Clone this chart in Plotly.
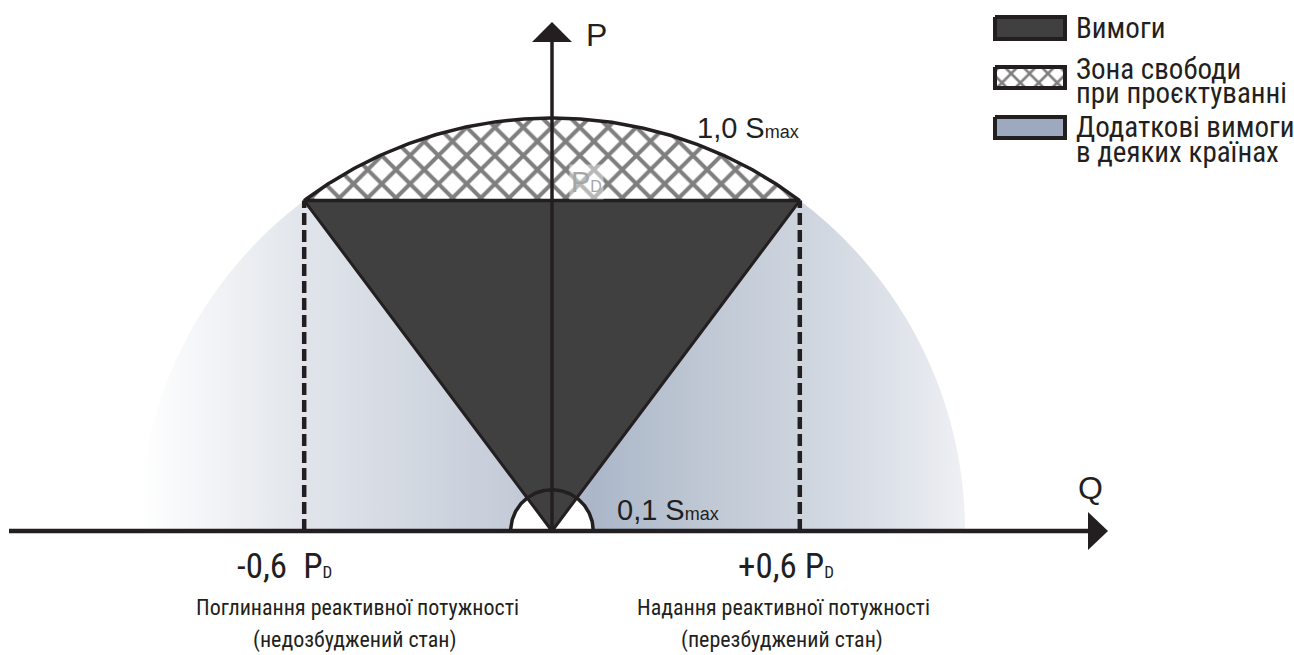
import numpy as np
import plotly.graph_objects as go

# Canvas and geometry of the P-Q plane (pixels per unit of S_max)
W, H = 1294, 655
ORIGIN_X, ORIGIN_Y = 552, 531
SCALE = 413

# Diagram values (in units of S_max)
S_MAX = 1.0          # outer capability circle
S_MIN = 0.1          # small circle around the origin
P_D = 0.8            # active power level of the requirement triangle
Q_LIMITS = [-0.6, 0.6]

# Horizontal shading of the "additional requirements" half-disc
GRADIENT_STOPS = [0.0, 0.2, 0.45, 0.55, 0.68, 0.8, 0.92, 1.0]
GRADIENT_COLORS = ["#ffffff", "#e1e5eb", "#c5ccd8", "#abb7c9",
                   "#bec7d3", "#cdd4de", "#dfe3ea", "#eef0f4"]

# Legend entries
LEGEND_LINES = [["Вимоги"],
                ["Зона свободи", "при проєктуванні"],
                ["Додаткові вимоги", "в деяких країнах"]]
LEGEND_FILLS = ["#404040", "hatch", "#9ca9be"]

# Axis and region labels
LABEL_Q_LEFT = "-0,6  P"
LABEL_Q_RIGHT = "+0,6 P"
SUB_D = "D"
CAPTION_LEFT = ["Поглинання реактивної потужності", "(недозбуджений стан)"]
CAPTION_RIGHT = ["Надання реактивної потужності", "(перезбуджений стан)"]

INK = "#231f20"
DARK = "#404040"
NARROW = "'Roboto Condensed', 'DejaVu Sans Condensed', sans-serif"
REGULAR = "'Liberation Sans', Arial, Helvetica, sans-serif"

x_range = [(0 - ORIGIN_X) / SCALE, (W - ORIGIN_X) / SCALE]
y_range = [(ORIGIN_Y - H) / SCALE, (ORIGIN_Y - 0) / SCALE]


def arc(radius, a0, a1, n=200):
    t = np.linspace(a0, a1, n)
    return radius * np.cos(t), radius * np.sin(t)


fig = go.Figure()

# Shaded half-disc of radius S_max
hx, hy = arc(S_MAX, 0, np.pi)
fig.add_trace(go.Scatter(
    x=np.append(hx, hx[0]), y=np.append(hy, hy[0]), mode="none", fill="toself",
    fillgradient=dict(type="horizontal", start=-S_MAX, stop=S_MAX,
                      colorscale=[[s, c] for s, c in zip(GRADIENT_STOPS, GRADIENT_COLORS)]),
    hoverinfo="skip", showlegend=False))

# White half-disc of radius S_min around the origin
sx, sy = arc(S_MIN, 0, np.pi)
fig.add_trace(go.Scatter(
    x=np.append(sx, sx[0]), y=np.append(sy, sy[0]), mode="none", fill="toself",
    fillcolor="white", hoverinfo="skip", showlegend=False))

# Requirement triangle
fig.add_trace(go.Scatter(
    x=[0, Q_LIMITS[0], Q_LIMITS[1], 0], y=[0, P_D, P_D, 0],
    mode="lines", fill="toself", fillcolor=DARK,
    line=dict(color=INK, width=3), hoverinfo="skip", showlegend=False))

# Outline of the small circle
fig.add_trace(go.Scatter(x=sx, y=sy, mode="lines", line=dict(color=INK, width=3.5),
                         hoverinfo="skip", showlegend=False))

# Hatched circular segment above P_D (design freedom)
a0 = np.arctan2(P_D, Q_LIMITS[1])
a1 = np.arctan2(P_D, Q_LIMITS[0])
gx, gy = arc(S_MAX, a0, a1)
fig.add_trace(go.Scatter(
    x=np.append(gx, gx[0]), y=np.append(gy, gy[0]), mode="lines", fill="toself",
    fillpattern=dict(shape="x", size=20, solidity=0.36, fgcolor="#000000", bgcolor="white"),
    line=dict(color=INK, width=3.5), hoverinfo="skip", showlegend=False))

shapes = []
# Dashed reactive power limits
for q in Q_LIMITS:
    shapes.append(dict(type="line", xref="x", yref="y", x0=q, x1=q, y0=0, y1=P_D,
                       line=dict(color=INK, width=4.5, dash="12px,5px"), layer="above"))

# Axes with arrowheads
q_axis_start, q_axis_end, q_tip = (9 - ORIGIN_X) / SCALE, (1088 - ORIGIN_X) / SCALE, (1108 - ORIGIN_X) / SCALE
p_axis_end, p_tip = (ORIGIN_Y - 42) / SCALE, (ORIGIN_Y - 22) / SCALE
half_w = 19 / SCALE
shapes.append(dict(type="line", xref="x", yref="y", x0=q_axis_start, x1=q_axis_end, y0=0, y1=0,
                   line=dict(color=INK, width=4.5), layer="above"))
shapes.append(dict(type="line", xref="x", yref="y", x0=0, x1=0, y0=0, y1=p_axis_end,
                   line=dict(color=INK, width=3.5), layer="above"))
shapes.append(dict(type="path", xref="x", yref="y", layer="above",
                   path=f"M{q_axis_end},{half_w} L{q_tip},0 L{q_axis_end},{-half_w} Z",
                   fillcolor=INK, line=dict(width=0)))
shapes.append(dict(type="path", xref="x", yref="y", layer="above",
                   path=f"M{-half_w * 1.05},{p_axis_end} L0,{p_tip} L{half_w * 1.05},{p_axis_end} Z",
                   fillcolor=INK, line=dict(width=0)))

# Legend swatches (pixel overlay axes)
SW_X0, SW_X1 = 995, 1065
SW_ROWS = [(17, 39), (67, 88), (117, 138)]
for (y0, y1), fill in zip(SW_ROWS, LEGEND_FILLS):
    kw = dict(x=[SW_X0, SW_X1, SW_X1, SW_X0, SW_X0], y=[y0, y0, y1, y1, y0],
              xaxis="x2", yaxis="y2", mode="lines", fill="toself",
              line=dict(color=INK, width=4), hoverinfo="skip", showlegend=False)
    if fill == "hatch":
        kw["fillpattern"] = dict(shape="x", size=13, solidity=0.36, fgcolor="#000000", bgcolor="white")
    else:
        kw["fillcolor"] = fill
    fig.add_trace(go.Scatter(**kw))

annotations = []


def text(x, y, s, size, family=NARROW, color=INK, xanchor="left", **extra):
    annotations.append(dict(x=x, y=y, xref="x2", yref="y2", text=s, showarrow=False,
                            xanchor=xanchor, yanchor="middle",
                            font=dict(size=size, family=family, color=color), **extra))


LEGEND_TEXT_Y = [[28], [69, 93], [127, 152]]
for lines, ys in zip(LEGEND_LINES, LEGEND_TEXT_Y):
    for s, y in zip(lines, ys):
        text(1074, y, s, 29)

text(596, 35, "P", 32, family=REGULAR, xanchor="center")
text(1090, 488, "Q", 32, family=REGULAR, xanchor="center")
text(695, 128, "1,0 S<span style='font-size:18px'>max</span>", 29, family=REGULAR)
text(615, 510, "0,1 S<span style='font-size:18px'>max</span>", 29, family=REGULAR)
text(586, 182, f"P<span style='font-size:16px'>{SUB_D}</span>", 29, family=REGULAR,
     color="#a6a6a6", xanchor="center", bgcolor="rgba(255,255,255,0.45)")
text(284, 566, f"{LABEL_Q_LEFT}<span style='font-size:17px'>{SUB_D}</span>", 35, xanchor="center")
text(786, 566, f"{LABEL_Q_RIGHT}<span style='font-size:17px'>{SUB_D}</span>", 35, xanchor="center")
text(357, 607, CAPTION_LEFT[0], 22, xanchor="center")
text(355, 640, CAPTION_LEFT[1], 22, xanchor="center")
text(783, 607, CAPTION_RIGHT[0], 22, xanchor="center")
text(782, 640, CAPTION_RIGHT[1], 22, xanchor="center")

fig.update_layout(
    width=W, height=H, margin=dict(l=0, r=0, t=0, b=0),
    paper_bgcolor="white", plot_bgcolor="white",
    xaxis=dict(range=x_range, visible=False, fixedrange=True),
    yaxis=dict(range=y_range, visible=False, fixedrange=True),
    xaxis2=dict(range=[0, W], visible=False, overlaying="x", fixedrange=True),
    yaxis2=dict(range=[H, 0], visible=False, overlaying="y", fixedrange=True),
    shapes=shapes, annotations=annotations, showlegend=False,
)

fig.write_html("out.html")
